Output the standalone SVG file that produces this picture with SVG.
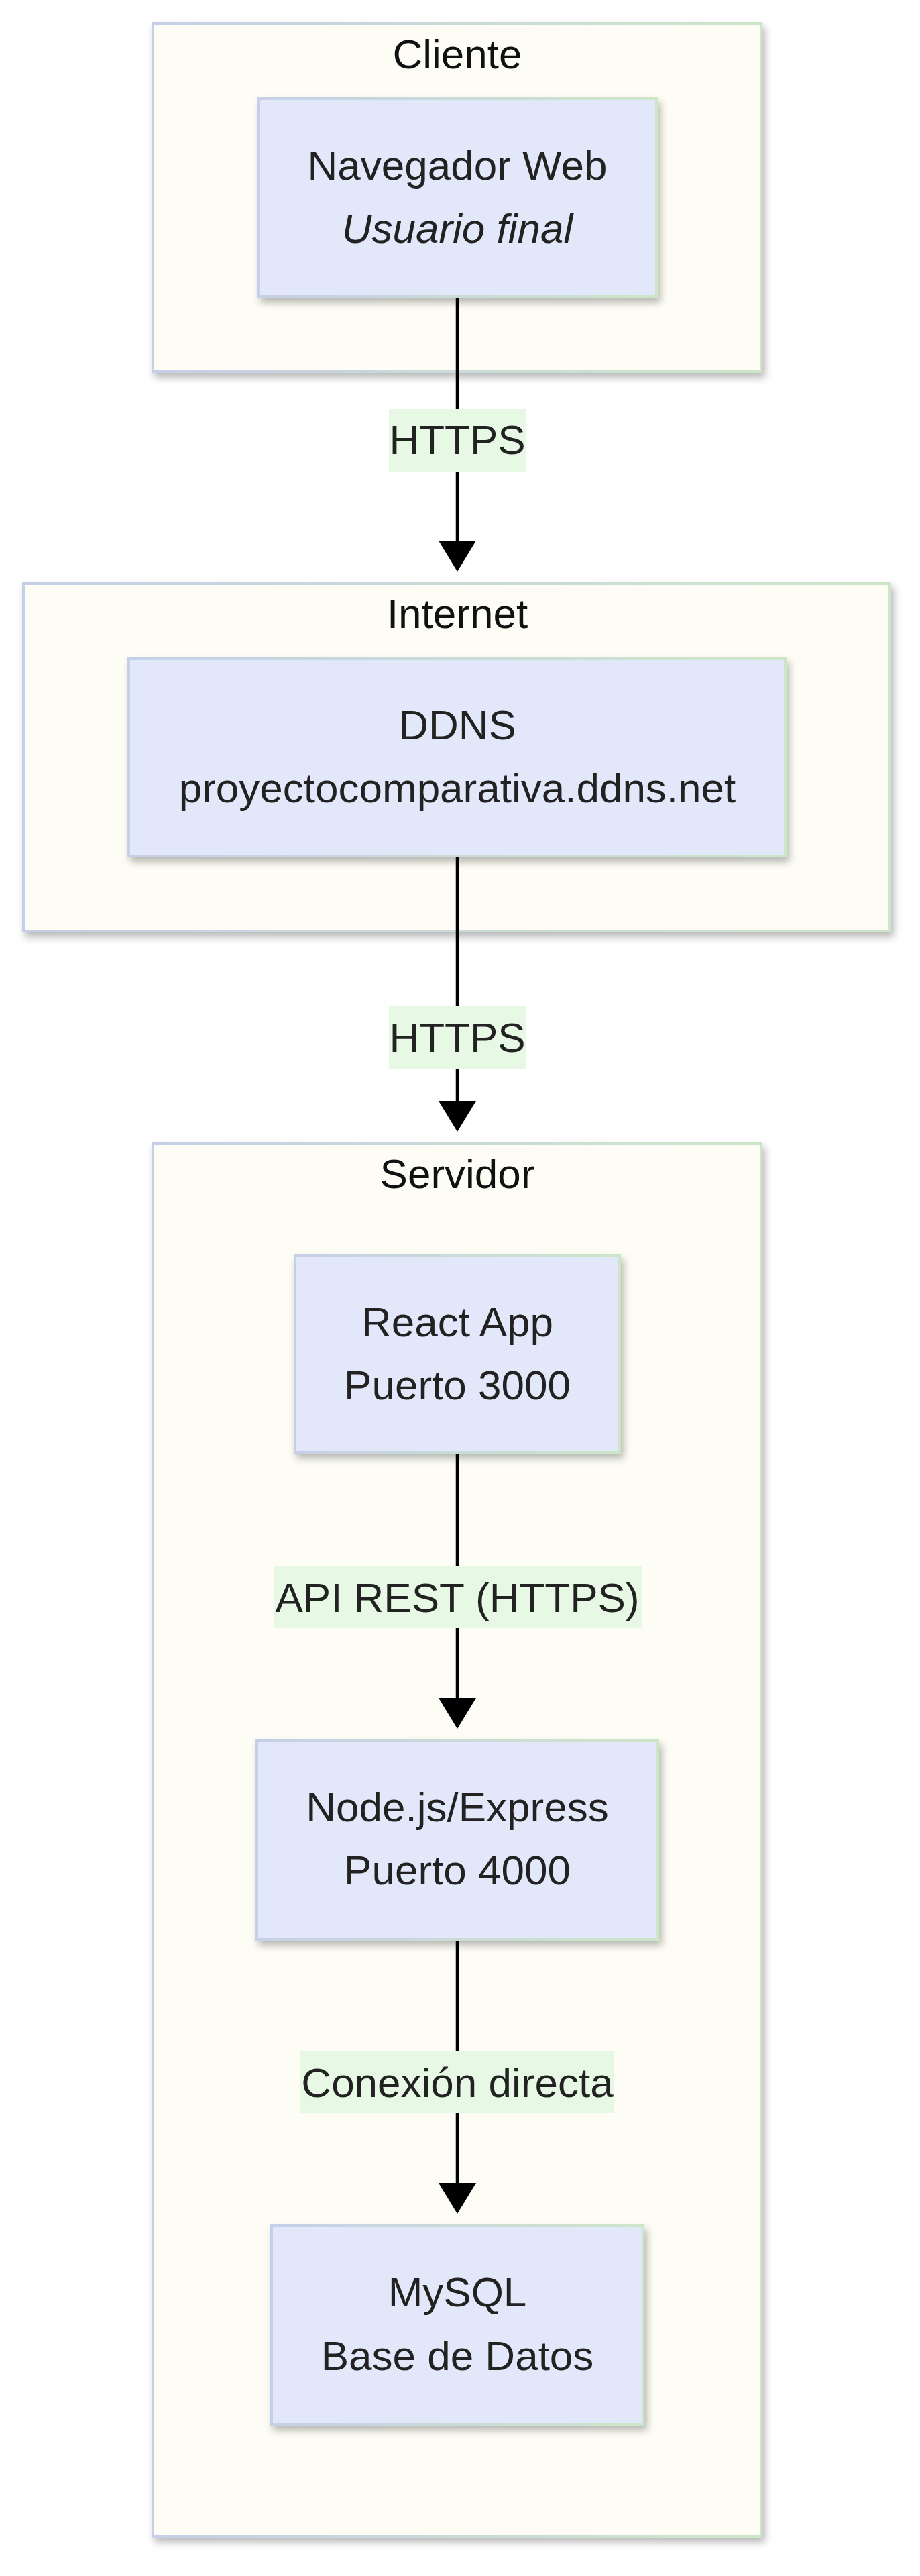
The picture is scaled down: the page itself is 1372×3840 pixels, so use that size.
<svg xmlns="http://www.w3.org/2000/svg" width="1372" height="3840" viewBox="0 0 1372 3840">
  <defs>
    <linearGradient id="edge" x1="0" y1="0" x2="1" y2="0">
      <stop offset="0" stop-color="#c6cfe8"/>
      <stop offset="1" stop-color="#cde6c8"/>
    </linearGradient>
    <filter id="shadow" x="-10%" y="-10%" width="130%" height="130%">
      <feDropShadow dx="4" dy="7" stdDeviation="6" flood-color="#000" flood-opacity="0.28"/>
    </filter>
    <marker id="arrow" viewBox="0 0 10 10" refX="0" refY="5" markerUnits="userSpaceOnUse" markerWidth="46" markerHeight="56" orient="auto" preserveAspectRatio="none">
      <path d="M0,0 L10,5 L0,10 z" fill="#000"/>
    </marker>
  </defs>
  <style>
    .cluster { fill: #fdfdf5; stroke: url(#edge); stroke-width: 4; filter: url(#shadow); }
    .node { fill: #e2e8f9; stroke: url(#edge); stroke-width: 4; filter: url(#shadow); }
    .ctitle { font-family: "Liberation Sans", Arial, sans-serif; font-size: 62px; fill: #111; text-anchor: middle; }
    .ntext { font-family: "Liberation Sans", Arial, sans-serif; font-size: 62px; fill: #222; text-anchor: middle; }
    .edge { stroke: #000; stroke-width: 4.5; fill: none; }
    .lbg { fill: #e7f9e5; }
    .ltext { font-family: "Liberation Sans", Arial, sans-serif; font-size: 62px; fill: #222; text-anchor: middle; }
  </style>
  <rect width="1372" height="3840" fill="#fff"/>

  <g id="cluster-cliente">
    <rect class="cluster" x="228" y="35" width="907" height="519"/>
    <text class="ctitle" x="682" y="102">Cliente</text>
  </g>
  <g id="cluster-internet">
    <rect class="cluster" x="35" y="870" width="1292" height="518"/>
    <text class="ctitle" x="682" y="936">Internet</text>
  </g>
  <g id="cluster-servidor">
    <rect class="cluster" x="228" y="1705" width="907" height="2076"/>
    <text class="ctitle" x="682" y="1771">Servidor</text>
  </g>

  <g id="connectors">
    <g id="e1">
      <path class="edge" d="M682,443 L682,806" marker-end="url(#arrow)"/>
      <rect class="lbg" x="580" y="609" width="205" height="94"/>
      <text class="ltext" x="682" y="677">HTTPS</text>
    </g>
    <g id="e2">
      <path class="edge" d="M682,1276 L682,1641" marker-end="url(#arrow)"/>
      <rect class="lbg" x="580" y="1500" width="205" height="93"/>
      <text class="ltext" x="682" y="1568">HTTPS</text>
    </g>
    <g id="e3">
      <path class="edge" d="M682,2165 L682,2531" marker-end="url(#arrow)"/>
      <rect class="lbg" x="408" y="2335" width="549" height="92"/>
      <text class="ltext" x="682" y="2403">API REST (HTTPS)</text>
    </g>
    <g id="e4">
      <path class="edge" d="M682,2891 L682,3254" marker-end="url(#arrow)"/>
      <rect class="lbg" x="448" y="3058" width="468" height="92"/>
      <text class="ltext" x="682" y="3126">Conexión directa</text>
    </g>
  </g>

  <g id="node-navegador">
    <rect class="node" x="386" y="147" width="593" height="295"/>
    <text class="ntext" x="682" y="268">Navegador Web</text>
    <text class="ntext" x="682" y="362" font-style="italic">Usuario final</text>
  </g>
  <g id="node-ddns">
    <rect class="node" x="192" y="982" width="979" height="294"/>
    <text class="ntext" x="682" y="1102">DDNS</text>
    <text class="ntext" x="682" y="1196">proyectocomparativa.ddns.net</text>
  </g>
  <g id="node-react">
    <rect class="node" x="440" y="1872" width="484" height="293"/>
    <text class="ntext" x="682" y="1992">React App</text>
    <text class="ntext" x="682" y="2086">Puerto 3000</text>
  </g>
  <g id="node-express">
    <rect class="node" x="383" y="2595" width="598" height="296"/>
    <text class="ntext" x="682" y="2715">Node.js/Express</text>
    <text class="ntext" x="682" y="2809">Puerto 4000</text>
  </g>
  <g id="node-mysql">
    <rect class="node" x="405" y="3318" width="554" height="296"/>
    <text class="ntext" x="682" y="3438">MySQL</text>
    <text class="ntext" x="682" y="3533">Base de Datos</text>
  </g>
</svg>
